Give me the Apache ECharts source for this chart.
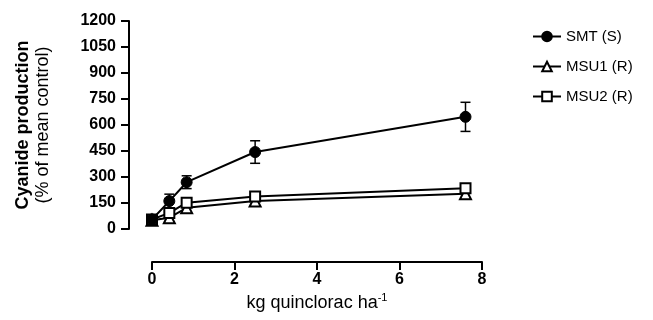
<!DOCTYPE html>
<html lang="en">
<head>
    <meta charset="UTF-8">
    <title>Cyanide production</title>
    <script src="https://cdn.jsdelivr.net/npm/echarts@6/dist/echarts.min.js"></script>
</head>
<body style="margin:0">
    <div id="main" style="width:653px;height:320px;"></div>
    <script type="text/javascript">
        var myChart = echarts.init(document.getElementById('main'));

        // data
        var doses = [0, 0.42, 0.84, 2.5, 7.6];
        var smt = [55, 161, 270, 444, 647];
        var smtErr = [10, 40, 37, 65, 84];
        var msu1 = [50, 65, 122, 161, 203];
        var msu2 = [55, 93, 152, 188, 235];
        var names = ['SMT (S)', 'MSU1 (R)', 'MSU2 (R)'];

        function pairs(ys) {
            var out = [];
            for (var i = 0; i < doses.length; i++) out.push([doses[i], ys[i]]);
            return out;
        }
        var errData = [];
        for (var i = 0; i < doses.length; i++) {
            errData.push([doses[i], smt[i] - smtErr[i], smt[i] + smtErr[i]]);
        }

        var font = '"Liberation Sans", Arial, sans-serif';
        var axisText = { color: '#000', fontSize: 16, fontWeight: 'bold', fontFamily: font };
        var lineBase = {
            type: 'line',
            symbolSize: 11,
            lineStyle: { color: '#000', width: 2 },
            itemStyle: { color: '#fff', borderColor: '#000', borderWidth: 2 },
            emphasis: { disabled: true }
        };

        option = {
            animation: false,
            textStyle: { fontFamily: font },
            grid: { left: 152, right: 171, top: 21, bottom: 91 },
            legend: {
                orient: 'vertical',
                left: 527,
                top: 24,
                itemWidth: 28,
                itemHeight: 12,
                itemGap: 15,
                textStyle: { color: '#000', fontSize: 15, fontFamily: font },
                data: names
            },
            xAxis: {
                type: 'value',
                min: 0,
                max: 8,
                interval: 2,
                offset: 33,
                axisLine: { onZero: false, lineStyle: { color: '#000', width: 2 } },
                axisTick: { length: 8, lineStyle: { color: '#000', width: 2 } },
                axisLabel: Object.assign({ margin: 10 }, axisText),
                splitLine: { show: false },
                name: '{a|kg quinclorac ha}{s|-1}',
                nameLocation: 'middle',
                nameGap: 28,
                nameTextStyle: {
                    rich: {
                        a: { color: '#000', fontSize: 18, fontFamily: font },
                        s: { color: '#000', fontSize: 11, fontFamily: font, padding: [0, 0, 10, 0] }
                    }
                }
            },
            yAxis: {
                type: 'value',
                min: 0,
                max: 1200,
                interval: 150,
                offset: 23,
                axisLine: { show: true, onZero: false, lineStyle: { color: '#000', width: 2 } },
                axisTick: { show: true, length: 8, lineStyle: { color: '#000', width: 2 } },
                axisLabel: Object.assign({ margin: 13, formatter: function (v) { return String(v); } }, axisText),
                splitLine: { show: false },
                name: '{b|Cyanide production}\n{n|(% of mean control)}',
                nameLocation: 'middle',
                nameRotate: 90,
                nameGap: 76,
                nameTextStyle: {
                    rich: {
                        b: { color: '#000', fontSize: 18, fontWeight: 'bold', fontFamily: font, lineHeight: 20 },
                        n: { color: '#000', fontSize: 18, fontFamily: font, lineHeight: 20 }
                    }
                }
            },
            series: [
                {
                    type: 'custom',
                    silent: true,
                    z: 1,
                    renderItem: function (params, api) {
                        var x = api.value(0);
                        var lo = api.coord([x, api.value(1)]);
                        var hi = api.coord([x, api.value(2)]);
                        var cap = 5;
                        var st = { stroke: '#000', lineWidth: 1.5 };
                        return {
                            type: 'group',
                            children: [
                                { type: 'line', shape: { x1: lo[0], y1: lo[1], x2: hi[0], y2: hi[1] }, style: st },
                                { type: 'line', shape: { x1: lo[0] - cap, y1: lo[1], x2: lo[0] + cap, y2: lo[1] }, style: st },
                                { type: 'line', shape: { x1: hi[0] - cap, y1: hi[1], x2: hi[0] + cap, y2: hi[1] }, style: st }
                            ]
                        };
                    },
                    data: errData
                },
                Object.assign({}, lineBase, { name: 'MSU1 (R)', symbol: 'triangle', z: 2, data: pairs(msu1) }),
                Object.assign({}, lineBase, { name: 'MSU2 (R)', symbol: 'rect', symbolSize: 10, z: 3, data: pairs(msu2) }),
                Object.assign({}, lineBase, {
                    name: 'SMT (S)', symbol: 'circle', z: 4,
                    itemStyle: { color: '#000', borderColor: '#000', borderWidth: 1 },
                    data: pairs(smt)
                })
            ]
        };

        myChart.setOption(option);
    </script>
</body>
</html>
